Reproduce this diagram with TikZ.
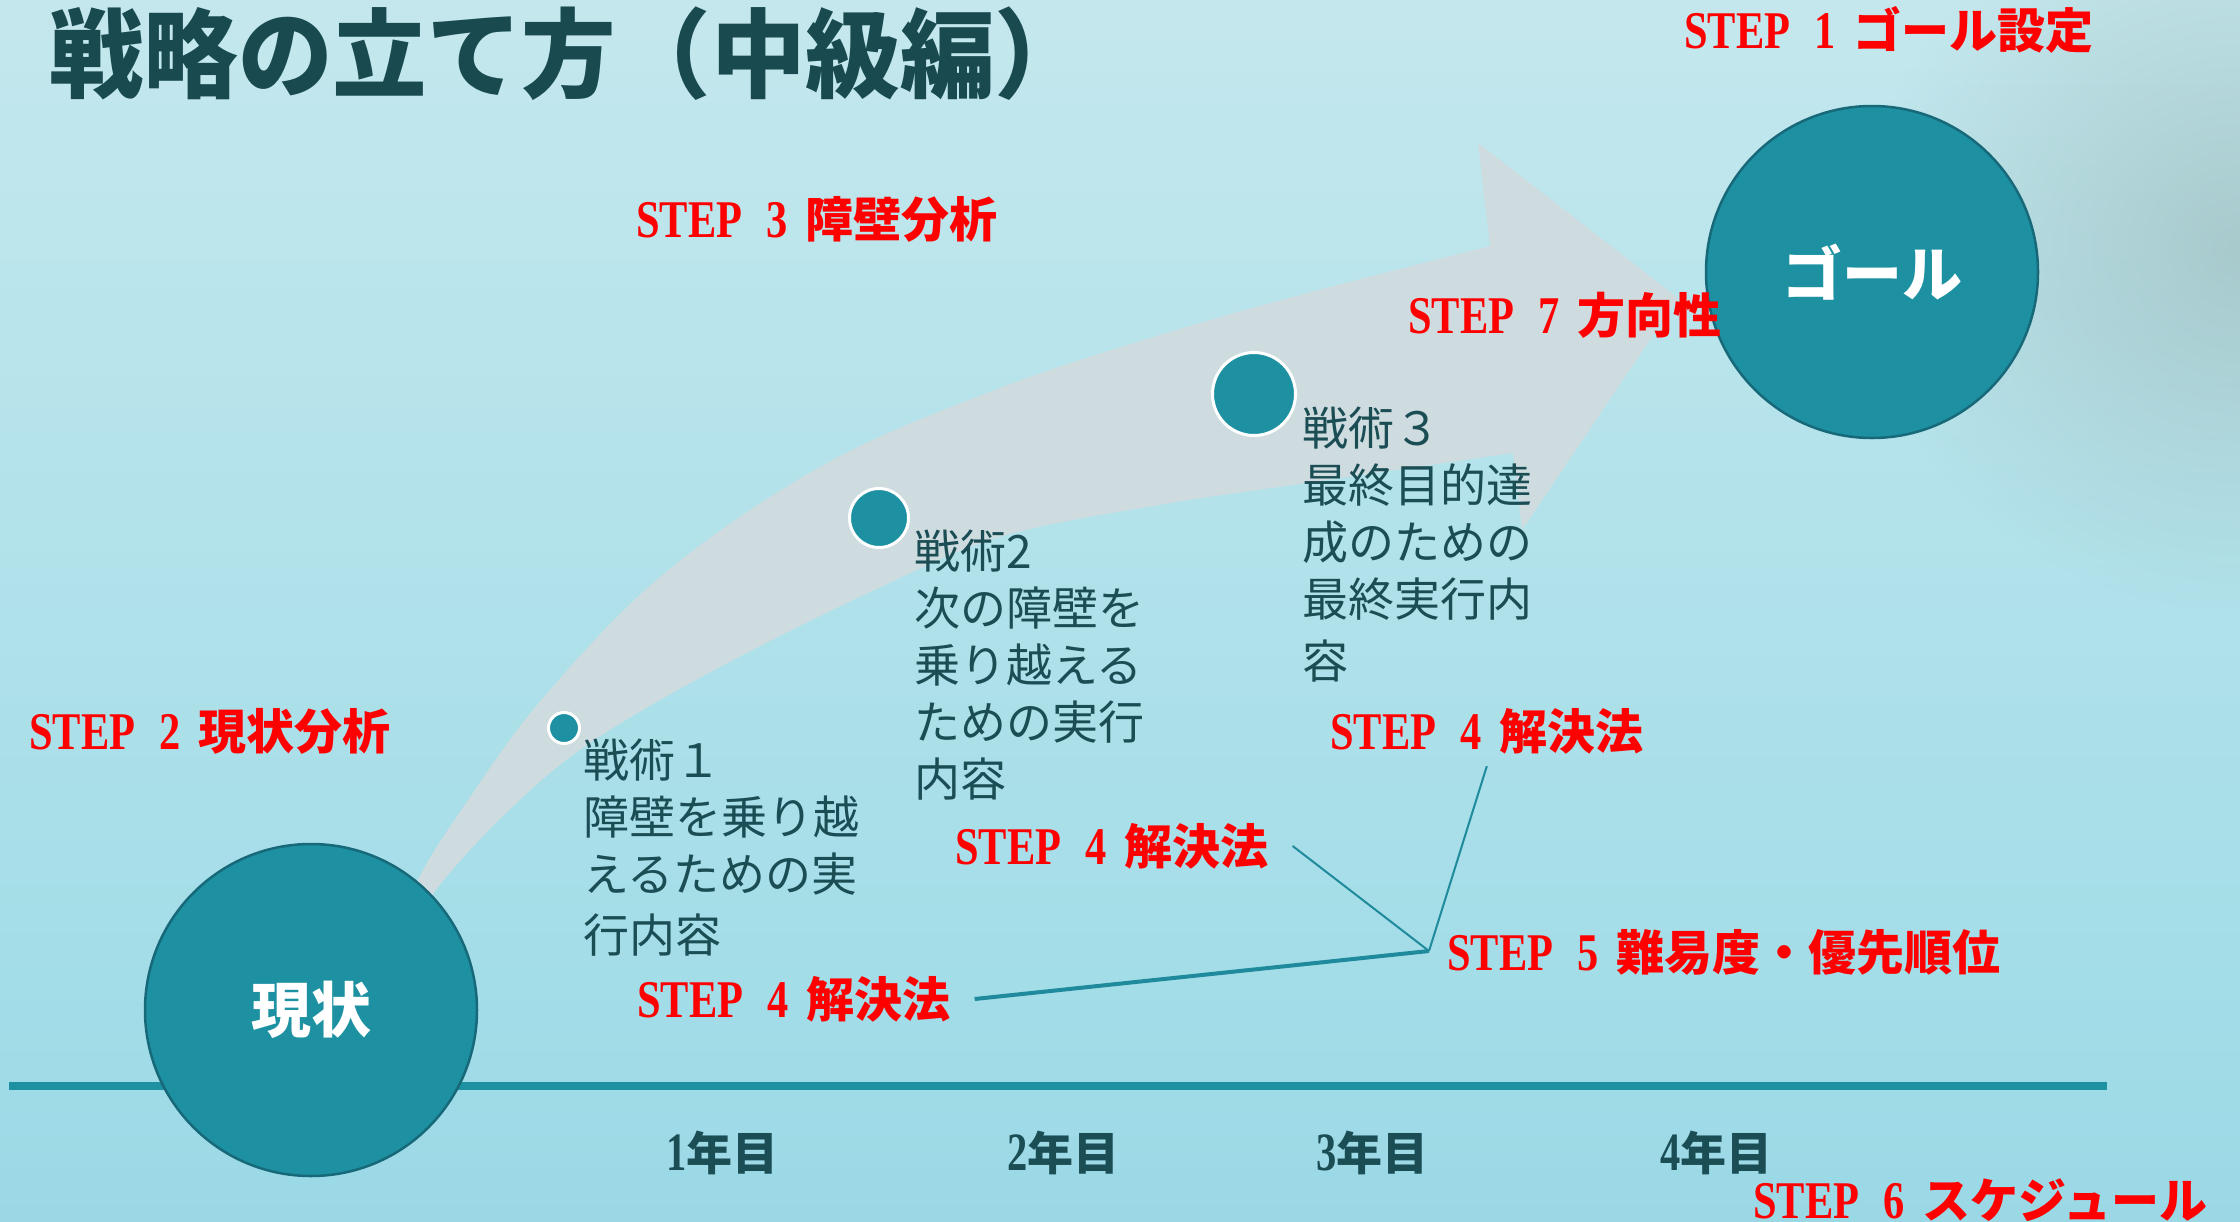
\documentclass[tikz,border=0pt]{standalone}
\usepackage{fontspec}
\usepackage{graphicx}
\usetikzlibrary{fadings}
\newfontfamily\jp{Noto Sans CJK JP}
\newfontfamily\tms{Liberation Serif}
\definecolor{teal1}{HTML}{1D91A2}
\definecolor{tealedge}{HTML}{17697A}
\definecolor{darktxt}{HTML}{1B4D54}
\definecolor{titlec}{HTML}{184A4F}
\definecolor{arrowc}{HTML}{CEDCE0}
\definecolor{linec}{HTML}{1E8A9C}
\definecolor{bgtop}{HTML}{D7EDF0}
\definecolor{bgmid2}{HTML}{BCE5EC}
\definecolor{bgmid}{HTML}{A3DDE8}
\definecolor{bgbot}{HTML}{86CCE0}
\definecolor{graypatch}{HTML}{9BB8B8}
\tikzfading[name=softfade, inner color=transparent!0, outer color=transparent!100]
\pgfdeclareverticalshading{bgshade}{100bp}{color(0bp)=(bgbot); color(35bp)=(bgmid); color(65bp)=(bgmid2); color(100bp)=(bgtop)}
\newcommand\steplbl[2]{{\tms\bfseries\fontsize{53pt}{53pt}\selectfont\scalebox{0.8}[1]{STEP}\hspace{24pt}\scalebox{0.8}[1]{#1}}\hspace{18pt}{\jp\bfseries\fontsize{48pt}{48pt}\selectfont #2}}
\newcommand\yrlbl[1]{{\tms\bfseries\fontsize{54pt}{54pt}\selectfont\scalebox{0.75}[1]{#1}}{\jp\bfseries\fontsize{46pt}{46pt}\selectfont 年目}}
\tikzset{
  lbl/.style={anchor=west, inner sep=0pt, text=red},
  body/.style={anchor=north west, inner sep=0pt, align=left, text=darktxt, font=\jp\fontsize{46pt}{57pt}\selectfont},
  big/.style={circle, fill=teal1, draw=tealedge, line width=2.5pt, minimum size=332pt, inner sep=0pt, text=white, font=\jp\bfseries\fontsize{60pt}{60pt}\selectfont},
  dot/.style={circle, fill=teal1, draw=white, line width=3pt, inner sep=0pt},
  yr/.style={anchor=west, inner sep=0pt, text=darktxt},
  conn/.style={draw=linec, line width=2pt},
}
\begin{document}
\begin{tikzpicture}[x=1pt,y=-1pt]
\useasboundingbox (0,0) rectangle (2240,1221);
% background
\shade[shading=bgshade] (0,0) rectangle (2240,1221);
\fill[graypatch, path fading=softfade, fill opacity=0.6] (2240,250) ellipse [x radius=380pt, y radius=360pt];
% timeline bar
\draw[teal1, line width=8pt] (9,1086) -- (2107,1086);
% big curved arrow
\fill[arrowc] plot[smooth, tension=0.6] coordinates {(398,945) (417,882) (462,809) (543,698) (666,572) (829,462) (1000,388) (1150,338) (1300,295) (1490,246)}
  -- (1478,143) -- (1678,298) -- (1522,530) -- (1513,453)
  -- plot[smooth, tension=0.6] coordinates {(1513,453) (1306,483) (1153,506) (1000,537) (870,592) (707,674) (584,747) (502,817) (433,894) (410,945)} -- cycle;
% title
\node[anchor=west, inner sep=0pt, text=titlec, font=\jp\bfseries\fontsize{97pt}{97pt}\selectfont] (title) at (49,54) {\resizebox{1040pt}{\height}{戦略の立て方（中級編）}};
% circles
\node[big] (now) at (311,1010) {現状};
\node[big] (goal) at (1872,272) {ゴール};
\node[dot, minimum size=31pt] (d1) at (564,728) {};
\node[dot, minimum size=59pt] (d2) at (879,518) {};
\node[dot, minimum size=83pt] (d3) at (1254,394) {};
% tactic texts
\node[body] (t1) at (583,739) {戦術１\\障壁を乗り越\\えるための実\\[4pt]行内容};
\node[body] (t2) at (914,530) {戦術2\\次の障壁を\\乗り越える\\ための実行\\内容};
\node[body] (t3) at (1302,407) {戦術３\\最終目的達\\成のための\\最終実行内\\[5pt]容};
% step labels
\node[lbl] (s1) at (1684,30) {\steplbl{1}{ゴール設定}};
\node[lbl] (s3) at (636,219) {\steplbl{3}{障壁分析}};
\node[lbl] (s7) at (1408,315) {\steplbl{7}{方向性}};
\node[lbl] (s2) at (29,731) {\steplbl{2}{現状分析}};
\node[lbl] (s4a) at (1330,731) {\steplbl{4}{解決法}};
\node[lbl] (s4b) at (955,846) {\steplbl{4}{解決法}};
\node[lbl] (s4c) at (637,999) {\steplbl{4}{解決法}};
\node[lbl] (s5) at (1447,952) {\steplbl{5}{難易度・優先順位}};
\node[lbl] (s6) at (1753,1200) {\steplbl{6}{スケジュール}};
% years
\node[yr] (y1) at (666,1153) {\yrlbl{1}};
\node[yr] (y2) at (1007,1153) {\yrlbl{2}};
\node[yr] (y3) at (1316,1153) {\yrlbl{3}};
\node[yr] (y4) at (1660,1153) {\yrlbl{4}};
% connectors
\coordinate (j5) at (1429,951);
\draw[conn] ([xshift=24pt]s4b.east) -- (j5);
\draw[conn] ([yshift=-12pt]s4a.south) -- (j5);
\draw[conn, line width=4pt] ([xshift=24pt]s4c.east) -- (j5);
\end{tikzpicture}
\end{document}
